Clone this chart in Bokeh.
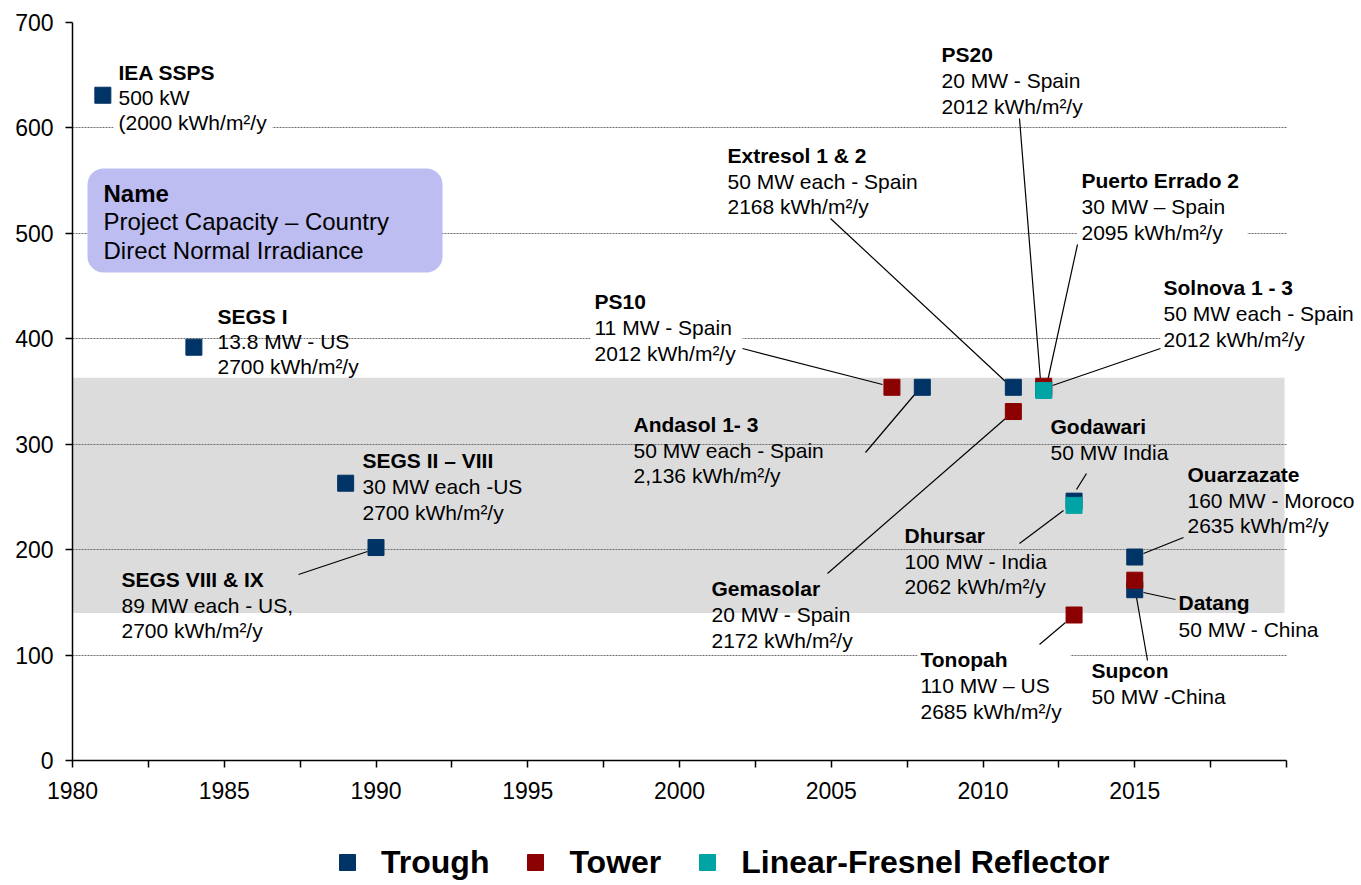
from bokeh.plotting import figure
from bokeh.layouts import column
from bokeh.models import (FixedTicker, BoxAnnotation, Legend, LegendItem, Range1d)
from bokeh.core.properties import value
from bokeh.embed import file_html
from bokeh.resources import INLINE

# ---------------- data ----------------
trough_year = [1981, 1984, 1989, 1990, 2008, 2011, 2012, 2013, 2015, 2015]
trough_val = [631, 392, 263, 202, 354, 354, 352, 246, 193, 162]
tower_year = [2007, 2011, 2012, 2013, 2015]
tower_val = [354, 331, 355, 138, 171]
lfr_year = [2012, 2013]
lfr_val = [351, 242]

band_low, band_high = 140, 363

x_ticks = [1980 + 2.5 * i for i in range(17)]
y_ticks = [0, 100, 200, 300, 400, 500, 600, 700]
grid_ticks = [100, 200, 300, 400, 500, 600]

series_names = ["Trough", "Tower", "Linear-Fresnel Reflector"]
series_colors = ["#003366", "#8b0000", "#00a4a4"]

FONT = "Liberation Sans"

# ---------------- main figure ----------------
W, H = 1361, 820
ML, MR, MT, MB = 72, 0, 22, 60
FW, FH = W - ML - MR, H - MT - MB          # 1289 x 738
PX_PER_YEAR = 1214 / 40.0                  # axis 1980..2020 spans 1214 px
x_end = 1980 + FW / PX_PER_YEAR

p = figure(width=W, height=H, x_range=Range1d(1980, x_end), y_range=Range1d(0, 700),
           output_backend="svg", toolbar_location=None, title=None,
           min_border_left=ML, min_border_right=MR, min_border_top=MT, min_border_bottom=MB)
p.outline_line_color = None
p.background_fill_color = "white"

# pixel -> data helpers for annotation layout
def X(px):
    return 1980 + (px - ML) / PX_PER_YEAR
def Y(py):
    return (MT + FH - py) * 700.0 / FH
def DY(dpx):
    return dpx * 700.0 / FH

# axes
p.xaxis.ticker = FixedTicker(ticks=x_ticks)
p.xaxis.bounds = (1980, 2020)
overrides = {}
for t in x_ticks:
    overrides[t] = str(int(t)) if (t % 5 == 0 and t < 2020) else ""
p.xaxis.major_label_overrides = overrides
p.yaxis.ticker = FixedTicker(ticks=y_ticks)
for ax in (p.xaxis[0], p.yaxis[0]):
    ax.axis_line_color = "black"
    ax.axis_line_width = 1.5
    ax.major_tick_line_color = "black"
    ax.major_tick_line_width = 1.5
    ax.major_tick_in = 0
    ax.major_tick_out = 7
    ax.minor_tick_line_color = None
    ax.major_label_text_font = FONT
    ax.major_label_text_font_size = "23px"
    ax.major_label_text_color = "black"
p.xaxis.major_label_standoff = 14
p.yaxis.major_label_standoff = 12

p.xgrid.visible = False
p.ygrid.ticker = FixedTicker(ticks=grid_ticks)
p.ygrid.grid_line_color = "#6f6f6f"
p.ygrid.grid_line_dash = "2 1"
p.ygrid.grid_line_width = 1
try:
    p.ygrid.cross_bounds = (1980, 2020)
except Exception:
    pass

# gray band (below grid)
p.add_layout(BoxAnnotation(bottom=band_low, top=band_high, left=1980, right=X(1284),
                           fill_color="#dcdcdc", fill_alpha=1, line_color=None, level="image"))

# white text-box masks that interrupt gridlines
masks = [(113, 272, 600), (590, 742, 400), (1077, 1247, 500), (1160, 1290, 400), (917, 1070, 100)]
for x0, x1, gy in masks:
    p.add_layout(BoxAnnotation(left=X(x0), right=X(x1), bottom=gy - DY(4), top=gy + DY(4),
                               fill_color="white", fill_alpha=1, line_color=None, level="underlay"))

# callout box
p.add_layout(BoxAnnotation(left=X(87), right=X(442), top=Y(168), bottom=Y(272),
                           fill_color="#bdbdf2", fill_alpha=1, line_color=None,
                           border_radius=16, level="underlay"))

# leader lines (pixel endpoints)
leaders = [
    ((298, 574), (367, 551)),
    ((742, 348), (882, 384)),
    ((865, 452), (915, 393)),
    ((830, 218), (1005, 381)),
    ((1019, 118), (1040, 380)),
    ((1077, 244), (1047, 381)),
    ((1160, 348), (1052, 385)),
    ((827, 573), (1005, 418)),
    ((1086, 473), (1076, 489)),
    ((1019, 543), (1063, 510)),
    ((1183, 537), (1143, 553)),
    ((1143, 592), (1175, 599)),
    ((1136, 597), (1147, 660)),
    ((1039, 644), (1065, 622)),
]
p.segment(x0=[X(a[0]) for a, b in leaders], y0=[Y(a[1]) for a, b in leaders],
          x1=[X(b[0]) for a, b in leaders], y1=[Y(b[1]) for a, b in leaders],
          line_color="black", line_width=1.2)

# data points
r_trough = p.scatter(trough_year, trough_val, marker="square", size=16,
                     fill_color=series_colors[0], line_color=series_colors[0])
r_tower = p.scatter(tower_year, tower_val, marker="square", size=16,
                    fill_color=series_colors[1], line_color=series_colors[1])
r_lfr = p.scatter(lfr_year, lfr_val, marker="square", size=16,
                  fill_color=series_colors[2], line_color=series_colors[2])

# annotations: name, lines, left px, first-line center px, spacing px
M2 = "kWh/m²/y"
labels = [
    ("IEA SSPS", ["500 kW", "(2000 " + M2], 118, 72, 25),
    ("SEGS I", ["13.8 MW - US", "2700 " + M2], 217, 316, 25),
    ("SEGS II – VIII", ["30 MW each -US", "2700 " + M2], 362, 460, 26),
    ("SEGS VIII & IX", ["89 MW each - US,", "2700 " + M2], 121, 579, 25.5),
    ("PS10", ["11 MW - Spain", "2012 " + M2], 594, 301, 26),
    ("Andasol 1- 3", ["50 MW each - Spain", "2,136 " + M2], 633, 424, 25.5),
    ("Extresol 1 & 2", ["50 MW each - Spain", "2168 " + M2], 727, 155, 25.5),
    ("PS20", ["20 MW - Spain", "2012 " + M2], 941, 54, 26),
    ("Puerto Errado 2", ["30 MW – Spain", "2095 " + M2], 1081, 180, 26),
    ("Solnova 1 - 3", ["50 MW each - Spain", "2012 " + M2], 1163, 287, 26),
    ("Godawari", ["50 MW India"], 1050, 426, 25.5),
    ("Ouarzazate", ["160 MW - Moroco", "2635 " + M2], 1187, 474, 25.5),
    ("Dhursar", ["100 MW - India", "2062 " + M2], 904, 535, 25.5),
    ("Gemasolar", ["20 MW - Spain", "2172 " + M2], 711, 588, 26),
    ("Datang", ["50 MW - China"], 1178, 602, 27),
    ("Tonopah", ["110 MW – US", "2685 " + M2], 920, 659, 26),
    ("Supcon", ["50 MW -China"], 1091, 670, 25.5),
]
nx, ny, nt, lx, ly, lt = [], [], [], [], [], []
for name, lines, px, py, sp in labels:
    nx.append(X(px)); ny.append(Y(py)); nt.append(name)
    for i, ln in enumerate(lines):
        lx.append(X(px)); ly.append(Y(py + sp * (i + 1))); lt.append(ln)
p.text(x=nx, y=ny, text=nt, text_font=value(FONT), text_font_size="21px",
       text_font_style="bold", text_baseline="middle", text_align="left", text_color="black")
p.text(x=lx, y=ly, text=lt, text_font=value(FONT), text_font_size="21px",
       text_baseline="middle", text_align="left", text_color="black")

# callout text
p.text(x=[X(103)], y=[Y(193)], text=["Name"], text_font=value(FONT), text_font_size="24px",
       text_font_style="bold", text_baseline="middle", text_align="left", text_color="black")
p.text(x=[X(103), X(103)], y=[Y(221), Y(250)],
       text=["Project Capacity – Country", "Direct Normal Irradiance"],
       text_font=value(FONT), text_font_size="24px",
       text_baseline="middle", text_align="left", text_color="black")

# ---------------- legend strip ----------------
LH = 62
q = figure(width=W, height=LH, x_range=Range1d(0, 1), y_range=Range1d(0, 1),
           output_backend="svg", toolbar_location=None, title=None,
           x_axis_location=None, y_axis_location=None,
           min_border_left=0, min_border_right=0, min_border_top=0, min_border_bottom=0)
q.outline_line_color = None
q.grid.visible = False
legend_renderers = []
for c in series_colors:
    # one off-screen point per series so that the legend can draw its swatch
    legend_renderers.append(q.scatter(x=[-5], y=[-5], marker="square", size=16,
                                      fill_color=c, line_color=c))
legend = Legend(items=[LegendItem(label=n, renderers=[r])
                       for n, r in zip(series_names, legend_renderers)],
                orientation="horizontal", location=(255, 0))
legend.glyph_width = 40
legend.glyph_height = 40
legend.label_standoff = 14
legend.spacing = 26
legend.padding = 0
legend.margin = 0
legend.border_line_color = None
legend.background_fill_alpha = 0
legend.label_text_font = FONT
legend.label_text_font_size = "32px"
legend.label_text_font_style = "bold"
legend.label_text_color = "black"
q.add_layout(legend, "center")

layout = column(p, q, spacing=0)
open("out.html", "w").write(file_html(layout, INLINE))
